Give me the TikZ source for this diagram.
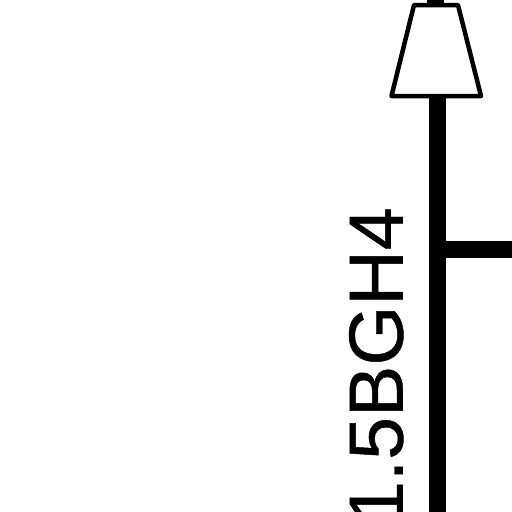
\documentclass[tikz,border=0pt]{standalone}
\usepackage{fontspec}
\setmainfont{Liberation Sans}
\newfontfamily\lblfont[FakeBold=0.6]{Liberation Sans}
\begin{document}
\begin{tikzpicture}[x=1pt,y=-1pt,
  wire/.style={line width=17pt,draw=black},
  lamp/.style={draw=black,line width=4.5pt,fill=white,line join=round},
  lbl/.style={font=\lblfont\fontsize{77}{77}\selectfont,rotate=90,anchor=south west,inner sep=0pt,outer sep=0pt}]
\useasboundingbox (0,0) rectangle (512,512);
\clip (0,0) rectangle (512,512);
\coordinate (top) at (437.5,96);
\coordinate (bottom) at (437.5,520);
\coordinate (junction) at (437.5,249);
\coordinate (right) at (520,249);
\coordinate (nubtop) at (435.5,-2);
\coordinate (nubbase) at (435.5,4);
\draw[wire] (nubtop) -- (nubbase);
\draw[lamp] (414,5) -- (458,5) -- (481,96) -- (391.5,96) -- cycle;
\draw[wire] (top) -- (bottom);
\draw[wire] (junction) -- (right);
\node[lbl] (label) at (403.5,524) {1.5BGH4};
\end{tikzpicture}
\end{document}
